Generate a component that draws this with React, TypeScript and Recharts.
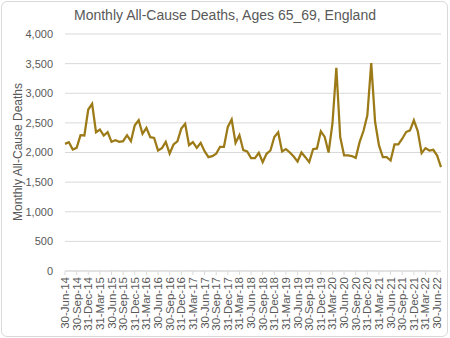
import React from 'react';
import { LineChart, Line, XAxis, YAxis, CartesianGrid } from 'recharts';

const months: string[] = [
  '30-Jun-14', '31-Jul-14', '31-Aug-14', '30-Sep-14', '31-Oct-14', '30-Nov-14', '31-Dec-14',
  '31-Jan-15', '28-Feb-15', '31-Mar-15', '30-Apr-15', '31-May-15', '30-Jun-15', '31-Jul-15', '31-Aug-15', '30-Sep-15', '31-Oct-15', '30-Nov-15', '31-Dec-15',
  '31-Jan-16', '29-Feb-16', '31-Mar-16', '30-Apr-16', '31-May-16', '30-Jun-16', '31-Jul-16', '31-Aug-16', '30-Sep-16', '31-Oct-16', '30-Nov-16', '31-Dec-16',
  '31-Jan-17', '28-Feb-17', '31-Mar-17', '30-Apr-17', '31-May-17', '30-Jun-17', '31-Jul-17', '31-Aug-17', '30-Sep-17', '31-Oct-17', '30-Nov-17', '31-Dec-17',
  '31-Jan-18', '28-Feb-18', '31-Mar-18', '30-Apr-18', '31-May-18', '30-Jun-18', '31-Jul-18', '31-Aug-18', '30-Sep-18', '31-Oct-18', '30-Nov-18', '31-Dec-18',
  '31-Jan-19', '28-Feb-19', '31-Mar-19', '30-Apr-19', '31-May-19', '30-Jun-19', '31-Jul-19', '31-Aug-19', '30-Sep-19', '31-Oct-19', '30-Nov-19', '31-Dec-19',
  '31-Jan-20', '29-Feb-20', '31-Mar-20', '30-Apr-20', '31-May-20', '30-Jun-20', '31-Jul-20', '31-Aug-20', '30-Sep-20', '31-Oct-20', '30-Nov-20', '31-Dec-20',
  '31-Jan-21', '28-Feb-21', '31-Mar-21', '30-Apr-21', '31-May-21', '30-Jun-21', '31-Jul-21', '31-Aug-21', '30-Sep-21', '31-Oct-21', '30-Nov-21', '31-Dec-21',
  '31-Jan-22', '28-Feb-22', '31-Mar-22', '30-Apr-22', '31-May-22', '30-Jun-22', '31-Jul-22',
];

const deaths: number[] = [
  2146, 2174, 2051, 2079, 2292, 2287, 2725,
  2821, 2343, 2388, 2287, 2343, 2180, 2208, 2180, 2191, 2292, 2191, 2461,
  2545, 2315, 2416, 2259, 2247, 2034, 2073, 2180, 1983, 2135, 2190, 2404,
  2483, 2123, 2174, 2079, 2163, 2022, 1921, 1938, 1978, 2096, 2096, 2432,
  2556, 2163, 2292, 2039, 2017, 1905, 1905, 1995, 1837, 1978, 2034, 2262,
  2340, 2017, 2057, 2000, 1932, 1847, 2000, 1921, 1837, 2057, 2068, 2357,
  2262, 2000, 2490, 3430, 2260, 1950, 1950, 1940, 1910, 2175, 2362, 2627,
  3510, 2514, 2119, 1921, 1921, 1865, 2136, 2136, 2232, 2345, 2373, 2543,
  2362, 1989, 2074, 2034, 2045, 1949, 1752,
];

const yTicks: number[] = [0, 500, 1000, 1500, 2000, 2500, 3000, 3500, 4000];

const chartTitle = 'Monthly All-Cause Deaths, Ages 65_69, England';
const yAxisTitle = 'Monthly All-Cause Deaths';

const data = months.map((m, i) => ({ date: m, deaths: deaths[i] }));

const FONT = '"Liberation Sans", Arial, sans-serif';
const TEXT = '#595959';
const GRID = '#d9d9d9';
const LINE = '#9c7a17';

const XTick = (props: any) => {
  const { x, y, payload } = props;
  return (
    <g transform={`translate(${x},${y})`}>
      <text
        transform="rotate(-90)"
        x={0}
        y={0}
        textAnchor="end"
        dominantBaseline="central"
        fill={TEXT}
        fontSize={11.5}
        fontFamily={FONT}
      >
        {payload.value}
      </text>
    </g>
  );
};

const YTitle = () => (
  <text
    x={18}
    y={152}
    transform="rotate(-90 18 152)"
    textAnchor="middle"
    dominantBaseline="central"
    fill={TEXT}
    fontSize={12}
    fontFamily={FONT}
  >
    {yAxisTitle}
  </text>
);

export default function App() {
  return (
    <div style={{ position: 'absolute', left: 0, top: 0, width: 450, height: 338, background: '#fff' }}>
      <div
        style={{
          position: 'absolute',
          left: 1,
          top: 1,
          width: 447,
          height: 336,
          boxSizing: 'border-box',
          border: `1px solid ${GRID}`,
          borderRadius: 6,
        }}
      />
      <div
        style={{
          position: 'absolute',
          left: 0,
          top: 0,
          width: 450,
          height: 30,
          lineHeight: '30px',
          textAlign: 'center',
          fontFamily: FONT,
          fontSize: 14,
          color: TEXT,
        }}
      >
        {chartTitle}
      </div>
      <div style={{ position: 'absolute', left: 0, top: 0 }}>
        <LineChart width={450} height={338} data={data} margin={{ top: 34, right: 9, bottom: 0, left: 0 }}>
          <CartesianGrid vertical={false} stroke={GRID} strokeWidth={1} />
          <XAxis
            dataKey="date"
            interval={2}
            height={67}
            tick={<XTick />}
            tickSize={4}
            tickMargin={2}
            axisLine={{ stroke: GRID }}
            tickLine={{ stroke: GRID }}
          />
          <YAxis
            width={65}
            domain={[0, 4000]}
            ticks={yTicks}
            axisLine={false}
            tickLine={false}
            tickSize={0}
            tickMargin={12}
            tick={{ fill: TEXT, fontSize: 11, fontFamily: FONT }}
            tickFormatter={(v: number) => v.toLocaleString('en-US')}
            label={{ content: () => <YTitle /> }}
          />
          <Line
            type="linear"
            dataKey="deaths"
            stroke={LINE}
            strokeWidth={2.25}
            dot={false}
            isAnimationActive={false}
          />
        </LineChart>
      </div>
    </div>
  );
}
